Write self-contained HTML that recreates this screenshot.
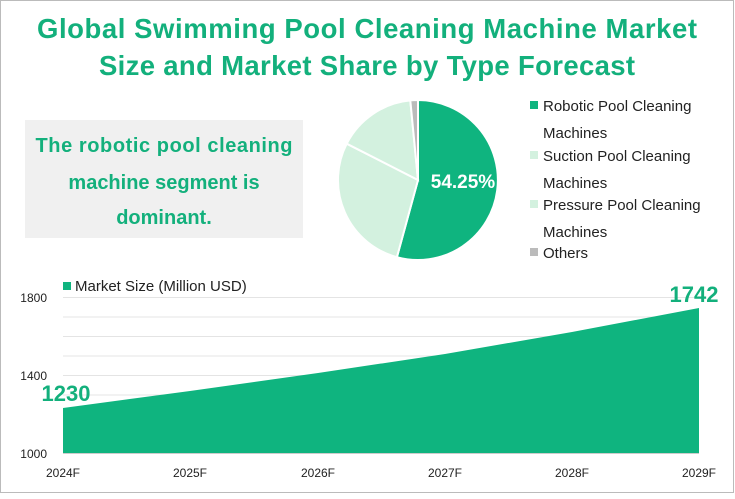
<!DOCTYPE html><html><head><style>body{margin:0;width:735px;height:494px;overflow:hidden;background:#fff;font-family:"Liberation Sans",sans-serif}</style></head><body>
<svg width="735" height="494" xmlns="http://www.w3.org/2000/svg" font-family="Liberation Sans, sans-serif">
<rect x="0.5" y="0.5" width="733" height="492" fill="#fff" stroke="#bbb"/>
<text x="367" y="38" text-anchor="middle" font-size="27.5" font-weight="bold" fill="#13b07c" textLength="660">Global Swimming Pool Cleaning Machine Market</text>
<text x="367" y="75" text-anchor="middle" font-size="27.5" font-weight="bold" fill="#13b07c" textLength="536">Size and Market Share by Type Forecast</text>
<rect x="25" y="120" width="278" height="118" fill="#f0f0f0"/>
<g font-size="20" font-weight="bold" fill="#13b07c" text-anchor="middle">
<text x="164" y="152" textLength="257">The robotic pool cleaning</text>
<text x="164" y="189">machine segment is</text>
<text x="164" y="224">dominant.</text></g>
<g stroke="#fff" stroke-width="2">
<path d="M418,180 L418,100 A80,80 0 1 1 396.9,257.2 Z" fill="#0fb47f"/>
<path d="M418,180 L396.9,257.2 A80,80 0 0 1 346.7,143.7 Z" fill="#d3f1df"/>
<path d="M418,180 L346.7,143.7 A80,80 0 0 1 410.3,100.4 Z" fill="#d3f1df"/>
<path d="M418,180 L410.3,100.4 A80,80 0 0 1 418,100 Z" fill="#bbb"/></g>
<text x="463" y="188" text-anchor="middle" font-size="19" font-weight="bold" fill="#fff">54.25%</text>
<g font-size="15" fill="#222">
<rect x="530" y="101" width="8" height="8" fill="#0fb47f"/><text x="543" y="111">Robotic Pool Cleaning</text>
<text x="543" y="138">Machines</text>
<rect x="530" y="151" width="8" height="8" fill="#d3f1df"/><text x="543" y="161">Suction Pool Cleaning</text>
<text x="543" y="188">Machines</text>
<rect x="530" y="200" width="8" height="8" fill="#d3f1df"/><text x="543" y="210">Pressure Pool Cleaning</text>
<text x="543" y="237">Machines</text>
<rect x="530" y="248" width="8" height="8" fill="#bbb"/><text x="543" y="258">Others</text></g>
<g stroke="#e4e4e4" stroke-width="1">
<line x1="63" x2="699" y1="297.5" y2="297.5"/><line x1="63" x2="699" y1="317" y2="317"/><line x1="63" x2="699" y1="336.5" y2="336.5"/><line x1="63" x2="699" y1="356" y2="356"/><line x1="63" x2="699" y1="375.5" y2="375.5"/><line x1="63" x2="699" y1="395" y2="395"/><line x1="63" x2="699" y1="414.5" y2="414.5"/><line x1="63" x2="699" y1="434" y2="434"/></g>
<path d="M63,408 L190,391 L318,373 L445,354 L572,332 L699,308 L699,453 L63,453 Z" fill="#0fb47f"/>
<line x1="63" x2="699" y1="453.5" y2="453.5" stroke="#ccc"/>
<rect x="63" y="282" width="8" height="8" fill="#0fb47f"/>
<text x="75" y="291" font-size="15" fill="#222">Market Size (Million USD)</text>
<g font-size="12" fill="#222" text-anchor="end"><text x="47" y="302">1800</text><text x="47" y="380">1400</text><text x="47" y="458">1000</text></g>
<g font-size="12" fill="#222" text-anchor="middle"><text x="63" y="477">2024F</text><text x="190" y="477">2025F</text><text x="318" y="477">2026F</text><text x="445" y="477">2027F</text><text x="572" y="477">2028F</text><text x="699" y="477">2029F</text></g>
<text x="66" y="401" text-anchor="middle" font-size="22" font-weight="bold" fill="#13b07c">1230</text>
<text x="694" y="302" text-anchor="middle" font-size="22" font-weight="bold" fill="#13b07c">1742</text>
</svg></body></html>
